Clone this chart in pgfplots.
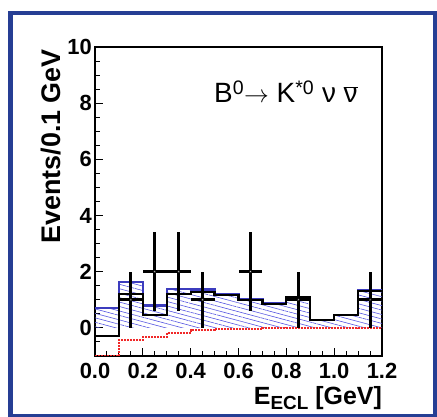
\documentclass[border=0pt]{standalone}
\usepackage{pgfplots}
\pgfplotsset{compat=1.18}
\usepackage{pgfplotstable}
\usepackage{fontspec}
\setmainfont{Liberation Sans}
\usetikzlibrary{patterns.meta}
\definecolor{framebl}{RGB}{38,62,148}
\definecolor{hatchbl}{RGB}{85,85,225}
\definecolor{linebl}{RGB}{60,60,190}
\definecolor{sigred}{RGB}{240,40,40}

\pgfplotstableread{
x    bkg   tot    sig
0.0  0.70 -0.30  -1.00
0.1  1.63  1.20  -0.43
0.2  0.80  0.47  -0.33
0.3  1.38  1.21  -0.17
0.4  1.37  1.28  -0.09
0.5  1.21  1.17  -0.04
0.6  1.03  1.00  -0.03
0.7  0.87  0.85  -0.02
0.8  1.11  1.10  -0.01
0.9  0.28  0.27  -0.01
1.0  0.46  0.45  -0.01
1.1  1.34  1.32  -0.02
1.2  1.34  1.32  -0.02
}\hist

\pgfplotstableread{
x     y   ex    ey
0.15  1   0.05  1
0.25  2   0.05  1.414
0.35  2   0.05  1.414
0.45  1   0.05  1
0.65  2   0.05  1.414
0.85  1   0.05  1
1.15  1   0.05  1
}\data

\begin{document}
\begin{tikzpicture}
\useasboundingbox (0,0) rectangle (437bp,417bp);
\draw[framebl, line width=4.5bp] (10.5bp,1bp) rectangle (435bp,404bp);
\begin{axis}[
  at={(95bp,61bp)}, anchor=south west,
  scale only axis, width=287bp, height=309bp,
  xmin=0, xmax=1.2, ymin=-1, ymax=10,
  axis line style={line width=1.2bp, black},
  xtick={0,0.2,0.4,0.6,0.8,1.0,1.2},
  xticklabels={0.0,0.2,0.4,0.6,0.8,1.0,1.2},
  minor xtick={0.05,0.1,0.15,0.25,0.3,0.35,0.45,0.5,0.55,0.65,0.7,0.75,0.85,0.9,0.95,1.05,1.1,1.15},
  ytick={0,2,4,6,8,10},
  minor ytick={-0.5,0.5,1,1.5,2.5,3,3.5,4.5,5,5.5,6.5,7,7.5,8.5,9,9.5},
  tick align=inside,
  xtick pos=lower, ytick pos=left,
  major tick length=8bp, minor tick length=4.5bp,
  every tick/.style={black, line width=1bp},
  /pgf/number format/assume math mode=true,
  ticklabel style={font=\fontsize{22}{26}\selectfont\bfseries},
  xticklabel style={inner sep=0pt, yshift=-7bp},
  yticklabel style={inner sep=0pt, xshift=-3bp},
  clip=true,
]
\addplot[const plot, draw=none, pattern={Lines[angle=-15,distance=4.3bp,line width=0.6bp]}, pattern color=hatchbl]
  table[x=x, y=bkg] {\hist} \closedcycle;
\addplot[const plot, sigred, densely dotted, line width=2bp] table[x=x, y=sig] {\hist};
\addplot[const plot, linebl, line width=2.2bp] table[x=x, y=bkg] {\hist};
\addplot[const plot, black, line width=2.2bp] table[x=x, y=tot] {\hist};
\addplot[black, only marks, mark=*, mark size=1.1bp,
  mark options={fill=white, draw=none},
  error bars/.cd, x dir=both, x explicit, y dir=both, y explicit,
  error bar style={line width=3bp, black}, error mark=none]
  table[x=x, y=y, x error=ex, y error=ey] {\data};
\end{axis}
\node[anchor=base west, font=\fontsize{28}{32}\selectfont, inner sep=0pt] at (214bp,314bp)
  {B\textsuperscript{0}$\rightarrow$ K\textsuperscript{*0} ν $\overline{\mbox{ν}}$};
\node[rotate=90, anchor=base east, font=\fontsize{27}{30}\selectfont\bfseries, inner sep=0pt] at (60bp,368bp)
  {Events/0.1 GeV};
\node[anchor=base east, font=\fontsize{25}{30}\selectfont\bfseries, inner sep=0pt] at (382bp,13bp)
  {E{\fontsize{19}{22}\selectfont\raisebox{-5bp}{ECL}} [GeV]};
\end{tikzpicture}
\end{document}
